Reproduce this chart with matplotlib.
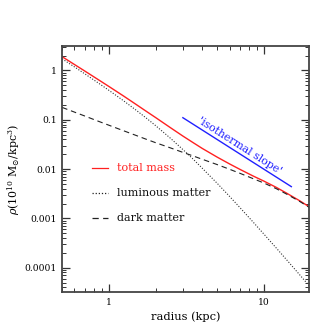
import numpy as np
import matplotlib
matplotlib.use("Agg")
import matplotlib.pyplot as plt
from matplotlib.ticker import LogLocator, NullFormatter, FixedLocator, FixedFormatter

plt.rcParams['font.family'] = ['DejaVu Serif']
plt.rcParams['mathtext.fontset'] = 'dejavuserif'

# radius (kpc)
radius = [0.5, 0.6, 0.7, 0.85, 1.0, 1.25, 1.5, 1.75, 2.0, 2.5, 3.0, 3.5,
          4.0, 5.0, 6.0, 7.0, 8.5, 10.0, 12.0, 14.0, 17.0, 20.0]
# densities (10^10 Msun / kpc^3)
total_mass = [1.90, 1.32, 0.972, 0.658, 0.474, 0.300, 0.204, 0.147, 0.111, 0.0687, 0.0467, 0.0342,
              0.0262, 0.0174, 0.0127, 0.00985, 0.00724, 0.00568, 0.00425, 0.00324, 0.00227, 0.00164]
luminous = [1.72, 1.18, 0.853, 0.564, 0.396, 0.240, 0.156, 0.107, 0.0762, 0.0419, 0.0249, 0.0158,
            0.0104, 0.00511, 0.00279, 0.00165, 0.000844, 0.000477, 0.000250, 0.000144, 0.0000714, 0.0000396]
dark = [0.178, 0.143, 0.119, 0.094, 0.0775, 0.0595, 0.0480, 0.0400, 0.0343, 0.0268, 0.0218, 0.0184,
        0.0158, 0.0123, 0.0099, 0.0082, 0.0064, 0.0052, 0.0040, 0.0031, 0.0022, 0.0016]

iso_r = [3.0, 15.0]
iso_rho = [0.11, 0.0044]

xticks = [1, 10]
xticklabels = ['1', '10']
yticks = [1e-4, 1e-3, 1e-2, 1e-1, 1]
yticklabels = ['0.0001', '0.001', '0.01', '0.1', '1']

fig = plt.figure(figsize=(3.27, 3.27), dpi=100)
ax = fig.add_axes([0.19, 0.106, 0.755, 0.754])

ax.plot(radius, total_mass, color='#ff2020', lw=1.0)
ax.plot(radius, luminous, color='#333333', lw=0.8, ls=(0, (1, 1.5)))
ax.plot(radius, dark, color='#222222', lw=0.8, ls=(0, (5, 3.5)))
ax.plot(iso_r, iso_rho, color='#2020ff', lw=1.0)

ax.set_xscale('log')
ax.set_yscale('log')
ax.set_xlim(0.5, 19.5)
ax.set_ylim(10**-4.5, 10**0.5)

ax.xaxis.set_major_locator(FixedLocator(xticks))
ax.xaxis.set_major_formatter(FixedFormatter(xticklabels))
ax.yaxis.set_major_locator(FixedLocator(yticks))
ax.yaxis.set_major_formatter(FixedFormatter(yticklabels))
ax.xaxis.set_minor_locator(LogLocator(base=10, subs=np.arange(2, 10), numticks=20))
ax.yaxis.set_minor_locator(LogLocator(base=10, subs=np.arange(2, 10), numticks=20))
ax.xaxis.set_minor_formatter(NullFormatter())
ax.yaxis.set_minor_formatter(NullFormatter())

ax.tick_params(which='both', direction='in', top=True, right=True, color='#333333',
               labelsize=6.6, pad=4)
ax.tick_params(which='major', length=6, width=0.9)
ax.tick_params(which='minor', length=3, width=0.7)
for s in ax.spines.values():
    s.set_color('#444444')
    s.set_linewidth(1.3)

ax.set_xlabel('radius (kpc)', fontsize=8.2, labelpad=3)
ax.set_ylabel(r'$\rho(10^{10}\ \mathrm{M}_{\odot}/\mathrm{kpc}^{3})$', fontsize=7.9, labelpad=2)

# legend drawn manually
leg_y = [0.503, 0.404, 0.300]
leg_labels = ['total mass', 'luminous matter', 'dark matter']
leg_colors = ['#ff2020', '#222222', '#222222']
leg_styles = ['-', (0, (1, 1.5)), (0, (5, 3.5))]
for yy, lab, c, ls in zip(leg_y, leg_labels, leg_colors, leg_styles):
    ax.plot([0.123, 0.185], [yy, yy], transform=ax.transAxes, color=c, ls=ls, lw=0.9)
    ax.text(0.221, yy, lab, transform=ax.transAxes, color=c if lab == 'total mass' else '#111111',
            fontsize=8.0, va='center', ha='left')

fig.canvas.draw()
p0 = ax.transData.transform((iso_r[0], iso_rho[0]))
p1 = ax.transData.transform((iso_r[1], iso_rho[1]))
ang = np.degrees(np.arctan2(p1[1] - p0[1], p1[0] - p0[0]))
ax.annotate("'isothermal slope'", xy=(np.sqrt(iso_r[0] * iso_r[1]), np.sqrt(iso_rho[0] * iso_rho[1])),
            xytext=(2.2, 4.9), textcoords='offset points', rotation=ang, rotation_mode='anchor',
            ha='center', va='center', color='#2020ff', fontsize=7.8)

fig.savefig('out.png', dpi=100)
